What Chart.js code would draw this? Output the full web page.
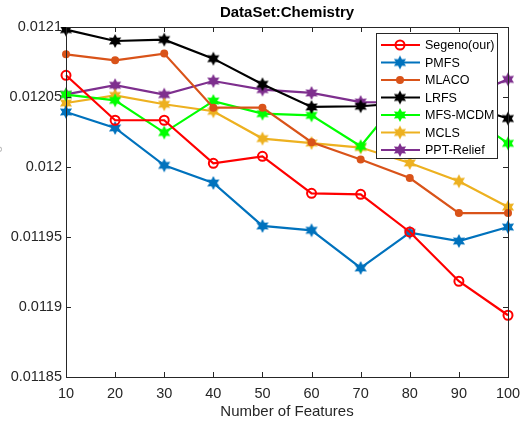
<!DOCTYPE html>
<html>
<head>
<meta charset="utf-8">
<script src="https://cdn.jsdelivr.net/npm/chart.js@4.4.1/dist/chart.umd.min.js"></script>
<style>
  html, body { margin: 0; padding: 0; background: #fff; }
  #wrap { width: 522px; height: 421px; position: relative; }
</style>
</head>
<body>
<div id="wrap"><canvas id="myChart"></canvas></div>
<script>
// datos
const features = [10, 20, 30, 40, 50, 60, 70, 80, 90, 100];
const seriesNames = ['Segeno(our)', 'PMFS', 'MLACO', 'LRFS', 'MFS-MCDM', 'MCLS', 'PPT-Relief'];

const segeno   = [0.0120655, 0.0120334, 0.0120334, 0.0120026, 0.0120076, 0.0119812, 0.0119805, 0.0119536, 0.0119184, 0.0118941];
const pmfs     = [0.0120393, 0.0120279, 0.0120012, 0.0119886, 0.0119579, 0.0119548, 0.0119279, 0.0119531, 0.0119471, 0.0119571];
const mlaco    = [0.0120805, 0.0120762, 0.0120810, 0.0120424, 0.0120424, 0.0120177, 0.0120053, 0.0119921, 0.0119671, 0.0119671];
const lrfs     = [0.0120981, 0.0120900, 0.0120910, 0.0120774, 0.0120591, 0.0120429, 0.0120434, 0.0120460, 0.0120455, 0.0120346];
const mfsMcdm  = [0.0120517, 0.0120476, 0.0120246, 0.0120471, 0.0120381, 0.0120369, 0.0120148, 0.0120576, 0.0120412, 0.0120169];
const mcls     = [0.0120457, 0.0120512, 0.0120448, 0.0120398, 0.0120203, 0.0120171, 0.0120139, 0.0120029, 0.0119898, 0.0119714];
const pptRelief= [0.0120519, 0.0120584, 0.0120517, 0.0120614, 0.0120553, 0.0120529, 0.0120464, 0.0120462, 0.0120483, 0.0120626];

const yTicks = [0.01185, 0.0119, 0.01195, 0.012, 0.01205, 0.0121];

const FONT = '"Liberation Sans", Arial, sans-serif';

// estrella de seis puntas como pointStyle
function hexagram(color, r) {
    const c = document.createElement('canvas');
    const s = Math.ceil(r * 2 + 2);
    c.width = s; c.height = s;
    const g = c.getContext('2d');
    const cx = s / 2, cy = s / 2;
    g.fillStyle = color;
    g.beginPath();
    for (let i = 0; i < 12; i++) {
        const a = -Math.PI / 2 + i * Math.PI / 6;
        const rr = i % 2 === 0 ? r : r * 0.55;
        const px = cx + rr * Math.cos(a), py = cy + rr * Math.sin(a);
        if (i === 0) g.moveTo(px, py); else g.lineTo(px, py);
    }
    g.closePath();
    g.fill();
    return c;
}

const colors = ['#FF0000', '#0072BD', '#D95319', '#000000', '#00FF00', '#EDB120', '#7E2F8E'];
const values = [segeno, pmfs, mlaco, lrfs, mfsMcdm, mcls, pptRelief];

function makeStyle(i) {
    if (i === 0) return { pointStyle: 'circle', pointRadius: 4.5, pointBackgroundColor: 'rgba(0,0,0,0)', pointBorderWidth: 2 };
    if (i === 2) return { pointStyle: 'circle', pointRadius: 4, pointBackgroundColor: colors[i], pointBorderWidth: 0 };
    return { pointStyle: hexagram(colors[i], 7), pointRadius: 7 };
}

const datasets = values.map((v, i) => Object.assign({
    label: seriesNames[i],
    data: v,
    borderColor: colors[i],
    backgroundColor: colors[i],
    pointBorderColor: colors[i],
    borderWidth: 2.2,
    tension: 0,
    fill: false
}, makeStyle(i)));

// caja, marcas hacia dentro, titulo, leyenda y titulo del eje y
const boxPlugin = {
    id: 'box',
    afterDatasetsDraw(chart) {
        const { ctx, chartArea: a, scales } = chart;
        ctx.save();
        ctx.strokeStyle = '#262626';
        ctx.lineWidth = 1;
        ctx.strokeRect(a.left + 0.5, a.top + 0.5, a.right - a.left, a.bottom - a.top);
        ctx.beginPath();
        features.forEach((f, i) => {
            const x = Math.round(scales.x.getPixelForValue(i)) + 0.5;
            ctx.moveTo(x, a.bottom); ctx.lineTo(x, a.bottom - 5);
            ctx.moveTo(x, a.top); ctx.lineTo(x, a.top + 5);
        });
        yTicks.forEach(t => {
            const y = Math.round(scales.y.getPixelForValue(t)) + 0.5;
            ctx.moveTo(a.left, y); ctx.lineTo(a.left + 5, y);
            ctx.moveTo(a.right, y); ctx.lineTo(a.right - 5, y);
        });
        ctx.stroke();

        // titulo centrado sobre el area del grafico
        ctx.fillStyle = '#000';
        ctx.font = 'bold 15px ' + FONT;
        ctx.textAlign = 'center';
        ctx.textBaseline = 'middle';
        ctx.fillText('DataSet:Chemistry', (a.left + a.right) / 2, 13);

        // leyenda
        const lx = 376, ly = 33, lw = 121, lh = 125;
        ctx.fillStyle = '#fff';
        ctx.fillRect(lx, ly, lw, lh);
        ctx.strokeStyle = '#262626';
        ctx.lineWidth = 1;
        ctx.strokeRect(lx + 0.5, ly + 0.5, lw, lh);
        ctx.font = '12.5px ' + FONT;
        ctx.textAlign = 'left';
        chart.data.datasets.forEach((ds, i) => {
            const y = ly + 12 + i * 17.5;
            ctx.strokeStyle = ds.borderColor;
            ctx.lineWidth = 2.2;
            ctx.beginPath();
            ctx.moveTo(lx + 5, y); ctx.lineTo(lx + 44, y);
            ctx.stroke();
            const mx = lx + 24;
            if (typeof ds.pointStyle === 'string') {
                ctx.beginPath();
                ctx.arc(mx, y, ds.pointRadius, 0, Math.PI * 2);
                if (i === 0) { ctx.lineWidth = 2; ctx.stroke(); }
                else { ctx.fillStyle = ds.borderColor; ctx.fill(); }
            } else {
                const img = ds.pointStyle;
                ctx.drawImage(img, mx - img.width / 2, y - img.height / 2);
            }
            ctx.fillStyle = '#000';
            ctx.fillText(ds.label, lx + 49, y + 1);
        });

        // titulo del eje y (recortado como en el original)
        ctx.translate(-5, 160);
        ctx.rotate(-Math.PI / 2);
        ctx.fillStyle = '#bbbbbb';
        ctx.font = '13px ' + FONT;
        ctx.textAlign = 'center';
        ctx.fillText('Hamming loss', 0, 0);
        ctx.restore();
    }
};

const ctx = document.getElementById('myChart').getContext('2d');
new Chart(ctx, {
    type: 'line',
    data: { labels: features, datasets: datasets },
    options: {
        responsive: true,
        maintainAspectRatio: false,
        animation: false,
        layout: { padding: { left: 0, right: 14, top: 27, bottom: 0 } },
        plugins: {
            legend: { display: false },
            tooltip: { enabled: false },
            title: { display: false }
        },
        scales: {
            x: {
                type: 'category',
                offset: false,
                grid: { display: false, drawTicks: false },
                border: { display: false },
                ticks: { color: '#262626', font: { family: FONT, size: 14.5 }, padding: 8, maxRotation: 0 },
                title: { display: true, text: 'Number of Features', color: '#262626', font: { family: FONT, size: 15 }, padding: { top: 2, bottom: 0 } },
                afterFit(s) { s.height = 44; s.paddingLeft = 0; s.paddingRight = 0; }
            },
            y: {
                min: 0.01185,
                max: 0.0121,
                grid: { display: false, drawTicks: false },
                border: { display: false },
                afterBuildTicks(s) { s.ticks = yTicks.map(v => ({ value: v })); },
                ticks: {
                    color: '#262626',
                    font: { family: FONT, size: 14.5 },
                    padding: 4,
                    callback: v => String(parseFloat(v.toFixed(5)))
                },
                afterFit(s) { s.width = 66; s.paddingTop = 0; s.paddingBottom = 0; }
            }
        }
    },
    plugins: [boxPlugin]
});
</script>
</body>
</html>
